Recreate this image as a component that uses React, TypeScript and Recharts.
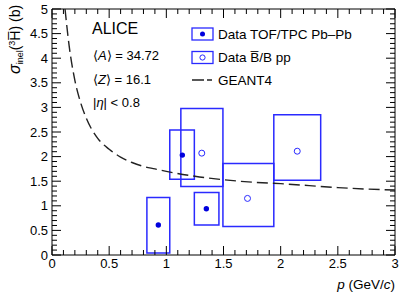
import React from "react";
import {
  ComposedChart,
  XAxis,
  YAxis,
  Scatter,
  ReferenceArea,
  Customized,
} from "recharts";

// Pb-Pb (TOF/TPC) measurements
const pbP = [0.93, 1.14, 1.35];
const pbSigma = [0.61, 2.03, 0.94];
const pbPLow = [0.83, 1.03, 1.245];
const pbPHigh = [1.03, 1.245, 1.46];
const pbSLow = [0.04, 1.54, 0.61];
const pbSHigh = [1.17, 2.54, 1.27];

// pp (B-bar/B) measurements
const ppP = [1.31, 1.71, 2.145];
const ppSigma = [2.07, 1.15, 2.11];
const ppPLow = [1.127, 1.495, 1.94];
const ppPHigh = [1.495, 1.94, 2.35];
const ppSLow = [1.39, 0.58, 1.52];
const ppSHigh = [2.98, 1.86, 2.85];

// GEANT4 curve
const g4P = [0.114, 0.15, 0.2, 0.25, 0.3, 0.4, 0.5, 0.6, 0.7, 0.8, 0.9, 1.0, 1.25, 1.5, 1.75, 2.0, 2.25, 2.5, 2.75, 3.0];
const g4Sigma = [5.0, 4.25, 3.55, 3.1, 2.78, 2.37, 2.15, 1.99, 1.88, 1.8, 1.75, 1.7, 1.6, 1.53, 1.48, 1.45, 1.41, 1.37, 1.34, 1.32];

// axis ranges and ticks (major every 0.5, minor every 0.1)
const xDomain = [0, 3];
const yDomain = [0, 5];
const xTicks = Array.from({ length: 31 }, (_, i) => +(i * 0.1).toFixed(2));
const yTicks = Array.from({ length: 51 }, (_, i) => +(i * 0.1).toFixed(2));

const pbData = pbP.map((x, i) => ({ x, y: pbSigma[i] }));
const ppData = ppP.map((x, i) => ({ x, y: ppSigma[i] }));
const g4Data = g4P.map((x, i) => ({ x, y: g4Sigma[i] }));

// layout
const W = 407;
const H = 294;
const MARGIN = { top: 9, right: 12, bottom: 0, left: 0 };
const Y_AXIS_W = 52;
const X_AXIS_H = 39;
const PLOT = {
  left: MARGIN.left + Y_AXIS_W,
  top: MARGIN.top,
  right: W - MARGIN.right,
  bottom: H - MARGIN.bottom - X_AXIS_H,
};

const BLUE = "#2a2aff";
const DOT = "#0000dd";
const FONT = "'Liberation Sans', Arial, Helvetica, sans-serif";
const MAJ = 9;
const MIN = 5;

const isMajor = (v: number) => Math.abs(v * 2 - Math.round(v * 2)) < 1e-6;
const fmt = (v: number) => String(+v.toFixed(1));

const BottomTick = (props: any) => {
  const { x, y, payload } = props;
  const v = payload.value;
  const len = isMajor(v) ? MAJ : MIN;
  return (
    <g>
      <line x1={x} y1={y} x2={x} y2={y - len} stroke="#000" strokeWidth={1} />
      {isMajor(v) && (
        <text x={x} y={y + 4} dy="0.71em" textAnchor="middle" fontSize={13} fontFamily={FONT} fill="#000">
          {fmt(v)}
        </text>
      )}
    </g>
  );
};
const LeftTick = (props: any) => {
  const { x, y, payload } = props;
  const v = payload.value;
  const len = isMajor(v) ? MAJ : MIN;
  return (
    <g>
      <line x1={x} y1={y} x2={x + len} y2={y} stroke="#000" strokeWidth={1} />
      {isMajor(v) && (
        <text x={x - 4} y={y} dy="0.355em" textAnchor="end" fontSize={13} fontFamily={FONT} fill="#000">
          {fmt(v)}
        </text>
      )}
    </g>
  );
};

// mirrored top / right axes (ROOT style frame)
const Frame = () => {
  const pw = PLOT.right - PLOT.left;
  const ph = PLOT.bottom - PLOT.top;
  const px = (v: number) => PLOT.left + ((v - xDomain[0]) / (xDomain[1] - xDomain[0])) * pw;
  const py = (v: number) => PLOT.bottom - ((v - yDomain[0]) / (yDomain[1] - yDomain[0])) * ph;
  return (
    <g stroke="#000" strokeWidth={1}>
      <line x1={PLOT.left} y1={PLOT.top} x2={PLOT.right} y2={PLOT.top} />
      <line x1={PLOT.right} y1={PLOT.top} x2={PLOT.right} y2={PLOT.bottom} />
      {xTicks.map((v) => (
        <line key={"t" + v} x1={px(v)} y1={PLOT.top} x2={px(v)} y2={PLOT.top + (isMajor(v) ? MAJ : MIN)} />
      ))}
      {yTicks.map((v) => (
        <line key={"r" + v} x1={PLOT.right} y1={py(v)} x2={PLOT.right - (isMajor(v) ? MAJ : MIN)} y2={py(v)} />
      ))}
    </g>
  );
};

const FilledDot = (props: any) => {
  const { cx, cy } = props;
  return <circle cx={cx} cy={cy} r={2.7} fill={DOT} stroke="none" />;
};
const OpenDot = (props: any) => {
  const { cx, cy } = props;
  return <circle cx={cx} cy={cy} r={3} fill="#fff" stroke={BLUE} strokeWidth={1} />;
};
const NoDot = () => <g />;

const Annotations = () => (
  <g fontFamily={FONT} fill="#000">
    <text x={92} y={34} fontSize={16}>ALICE</text>
    <text x={93} y={60} fontSize={13}>
      ⟨<tspan fontStyle="italic">A</tspan>⟩ = 34.72
    </text>
    <text x={93} y={84} fontSize={13}>
      ⟨<tspan fontStyle="italic">Z</tspan>⟩ = 16.1
    </text>
    <text x={93} y={107} fontSize={13}>
      |<tspan fontStyle="italic">η</tspan>| &lt; 0.8
    </text>
    {/* legend */}
    <rect x={192} y={28} width={21} height={12} fill="none" stroke={BLUE} strokeWidth={1.3} />
    <circle cx={202.5} cy={34} r={2.5} fill={DOT} />
    <text x={218} y={39} fontSize={13.5}>Data TOF/TPC Pb–Pb</text>
    <rect x={192} y={51.5} width={21} height={12} fill="none" stroke={BLUE} strokeWidth={1.3} />
    <circle cx={202.5} cy={57.5} r={2.6} fill="#fff" stroke={BLUE} strokeWidth={1} />
    <text x={218} y={62} fontSize={13.5}>Data B̅/B pp</text>
    <line x1={192} y1={80} x2={215} y2={80} stroke="#222" strokeWidth={1.3} strokeDasharray="12 3 5 10" />
    <text x={218} y={85} fontSize={13.5}>GEANT4</text>
    {/* axis titles */}
    <text x={395} y={289} fontSize={13.5} textAnchor="end">
      <tspan fontStyle="italic">p</tspan> (GeV/<tspan fontStyle="italic">c</tspan>)
    </text>
    <text x={20} y={74} transform="rotate(-90 20 74)" fontSize={14}>
      <tspan fontStyle="italic" fontSize={16}>σ</tspan>
      <tspan fontSize={9} dy={3}>inel</tspan>
      <tspan dy={-3}>(</tspan>
      <tspan fontSize={9} dy={-5}>3</tspan>
      <tspan dy={5}>H̅)</tspan>
      <tspan> (b)</tspan>
    </text>
  </g>
);

const axisLine = { stroke: "#000", strokeWidth: 1 };

export default function App() {
  return (
    <div style={{ position: "absolute", left: 0, top: 0, background: "#fff" }}>
      <ComposedChart width={W} height={H} margin={MARGIN}>
        <XAxis
          xAxisId={0}
          dataKey="x"
          type="number"
          domain={xDomain}
          ticks={xTicks}
          interval={0}
          allowDataOverflow
          height={X_AXIS_H}
          tickLine={false}
          tickSize={0}
          tickMargin={0}
          axisLine={axisLine}
          tick={<BottomTick />}
        />
        <YAxis
          yAxisId={0}
          dataKey="y"
          type="number"
          domain={yDomain}
          ticks={yTicks}
          interval={0}
          allowDataOverflow
          width={Y_AXIS_W}
          tickLine={false}
          tickSize={0}
          tickMargin={0}
          axisLine={axisLine}
          tick={<LeftTick />}
        />

        {pbP.map((_, i) => (
          <ReferenceArea
            key={"pb" + i}
            xAxisId={0}
            yAxisId={0}
            x1={pbPLow[i]}
            x2={pbPHigh[i]}
            y1={pbSLow[i]}
            y2={pbSHigh[i]}
            fill="none"
            stroke={BLUE}
            strokeWidth={1.5}
            ifOverflow="visible"
          />
        ))}
        {ppP.map((_, i) => (
          <ReferenceArea
            key={"pp" + i}
            xAxisId={0}
            yAxisId={0}
            x1={ppPLow[i]}
            x2={ppPHigh[i]}
            y1={ppSLow[i]}
            y2={ppSHigh[i]}
            fill="none"
            stroke={BLUE}
            strokeWidth={1.5}
            ifOverflow="visible"
          />
        ))}

        <Scatter
          xAxisId={0}
          yAxisId={0}
          data={g4Data}
          dataKey="y"
          stroke="#222"
          line={{ stroke: "#222", strokeWidth: 1.4, strokeDasharray: "11 5" }}
          lineJointType="monotoneX"
          shape={<NoDot />}
          isAnimationActive={false}
        />
        <Scatter xAxisId={0} yAxisId={0} data={pbData} dataKey="y" shape={<FilledDot />} isAnimationActive={false} />
        <Scatter xAxisId={0} yAxisId={0} data={ppData} dataKey="y" shape={<OpenDot />} isAnimationActive={false} />
        <Customized component={Frame} />
        <Customized component={Annotations} />
      </ComposedChart>
    </div>
  );
}
